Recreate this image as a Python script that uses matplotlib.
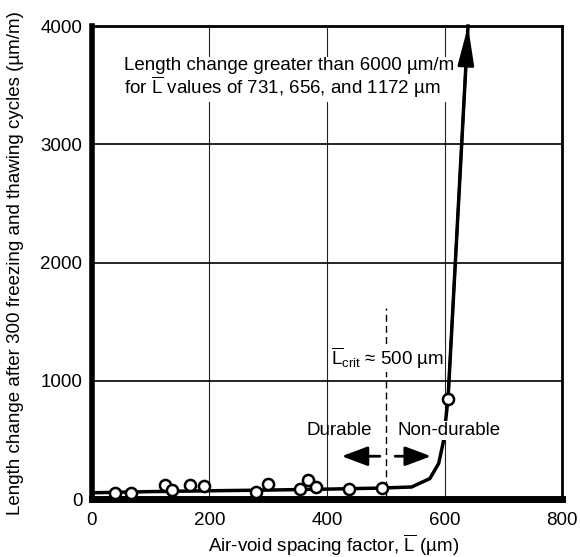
import matplotlib
matplotlib.use('Agg')
import matplotlib.pyplot as plt

# Valeurs
spacing_um = [39, 66, 124, 136, 166, 191, 280, 300, 354, 368, 381, 437, 493, 606]
length_change = [51, 51, 121, 79, 121, 115, 59, 127, 85, 163, 107, 87, 93, 851]

# Courbe de tendance
curve_x = [0, 100, 200, 300, 400, 493, 544, 575, 590, 598, 606, 640]
curve_y = [55, 65, 72, 78, 86, 95, 104, 175, 302, 485, 851, 4000]

x_ticks = [0, 200, 400, 600, 800]
y_ticks = [0, 1000, 2000, 3000, 4000]
L_crit = 500

plt.rcParams['font.family'] = ['Liberation Sans', 'DejaVu Sans']
plt.rcParams['mathtext.fontset'] = 'custom'
plt.rcParams['mathtext.rm'] = 'Liberation Sans'
plt.rcParams['mathtext.it'] = 'Liberation Sans:italic'
plt.rcParams['mathtext.bf'] = 'Liberation Sans:bold'

FS = 13.5
LBAR = r'$\overline{\mathrm{L}}$'

fig = plt.figure(figsize=(5.8, 5.57), dpi=100)
ax = fig.add_axes([0.1586, 0.1036, 0.8104, 0.8497])

ax.set_xlim(x_ticks[0], x_ticks[-1])
ax.set_ylim(y_ticks[0], y_ticks[-1])
ax.set_xticks(x_ticks)
ax.set_yticks(y_ticks)
ax.tick_params(length=0, labelsize=FS)
ax.tick_params(axis='x', pad=9.5)
ax.tick_params(axis='y', pad=7)

# grille
for xv in x_ticks[1:-1]:
    ax.axvline(xv, color='#222222', lw=0.8, zorder=1)
for yv in y_ticks[1:-1]:
    ax.axhline(yv, color='black', lw=1.2, zorder=1)

# bords
ax.spines['left'].set_linewidth(4)
ax.spines['bottom'].set_linewidth(5)
ax.spines['top'].set_linewidth(2)
ax.spines['right'].set_linewidth(2)

# ligne critique
ax.plot([L_crit, L_crit], [0, 1615], color='black', lw=1,
        linestyle=(0, (5, 3)), zorder=2)

# courbe + fleche
ax.plot(curve_x, curve_y, color='black', lw=2.5, zorder=3, clip_on=False)
ax.annotate('', xy=(curve_x[-1], curve_y[-1]), xytext=(curve_x[-2], curve_y[-2]),
            arrowprops=dict(arrowstyle='-|>,head_length=1.2,head_width=0.25',
                            color='black', lw=2, shrinkA=0, shrinkB=0,
                            mutation_scale=20),
            annotation_clip=False, zorder=3)

ax.plot(spacing_um, length_change, 'o', markersize=8, markerfacecolor='white',
        markeredgecolor='black', markeredgewidth=1.8, zorder=5, clip_on=False)

# textes
ax.text(54, 3556, 'Length change greater than 6000 µm/m\nfor ' + LBAR +
        ' values of 731, 656, and 1172 µm', fontsize=FS, va='center', ha='left',
        linespacing=1.05, zorder=6,
        bbox=dict(facecolor='white', edgecolor='none', pad=1))
ax.text(503, 1192, LBAR[:-1] + r'_{\mathrm{crit}}$' + ' ≈ 500 µm', fontsize=FS,
        ha='center', va='center', zorder=6,
        bbox=dict(facecolor='white', edgecolor='none', pad=1))
ax.text(420, 583, 'Durable', fontsize=FS, ha='center', va='center', zorder=6)
ax.text(608, 583, 'Non-durable', fontsize=FS, ha='center', va='center', zorder=6,
        bbox=dict(facecolor='white', edgecolor='none', pad=1))

# fleches durable / non-durable
arrow_y = 364
ax.annotate('', xy=(425, arrow_y), xytext=(490, arrow_y),
            arrowprops=dict(arrowstyle='-|>,head_length=0.8,head_width=0.3',
                            color='black', lw=2, shrinkA=0, shrinkB=0,
                            mutation_scale=20))
ax.annotate('', xy=(577, arrow_y), xytext=(516, arrow_y),
            arrowprops=dict(arrowstyle='-|>,head_length=0.8,head_width=0.3',
                            color='black', lw=2, shrinkA=0, shrinkB=0,
                            mutation_scale=20))

ax.set_xlabel('Air-void spacing factor, ' + LBAR + ' (µm)', fontsize=FS)
ax.set_ylabel('Length change after 300 freezing and thawing cycles (µm/m)',
              fontsize=FS)
ax.xaxis.set_label_coords(0.515, -0.069)
ax.yaxis.set_label_coords(-0.145, 0.5)

fig.savefig('out.png', dpi=100)
plt.close(fig)
